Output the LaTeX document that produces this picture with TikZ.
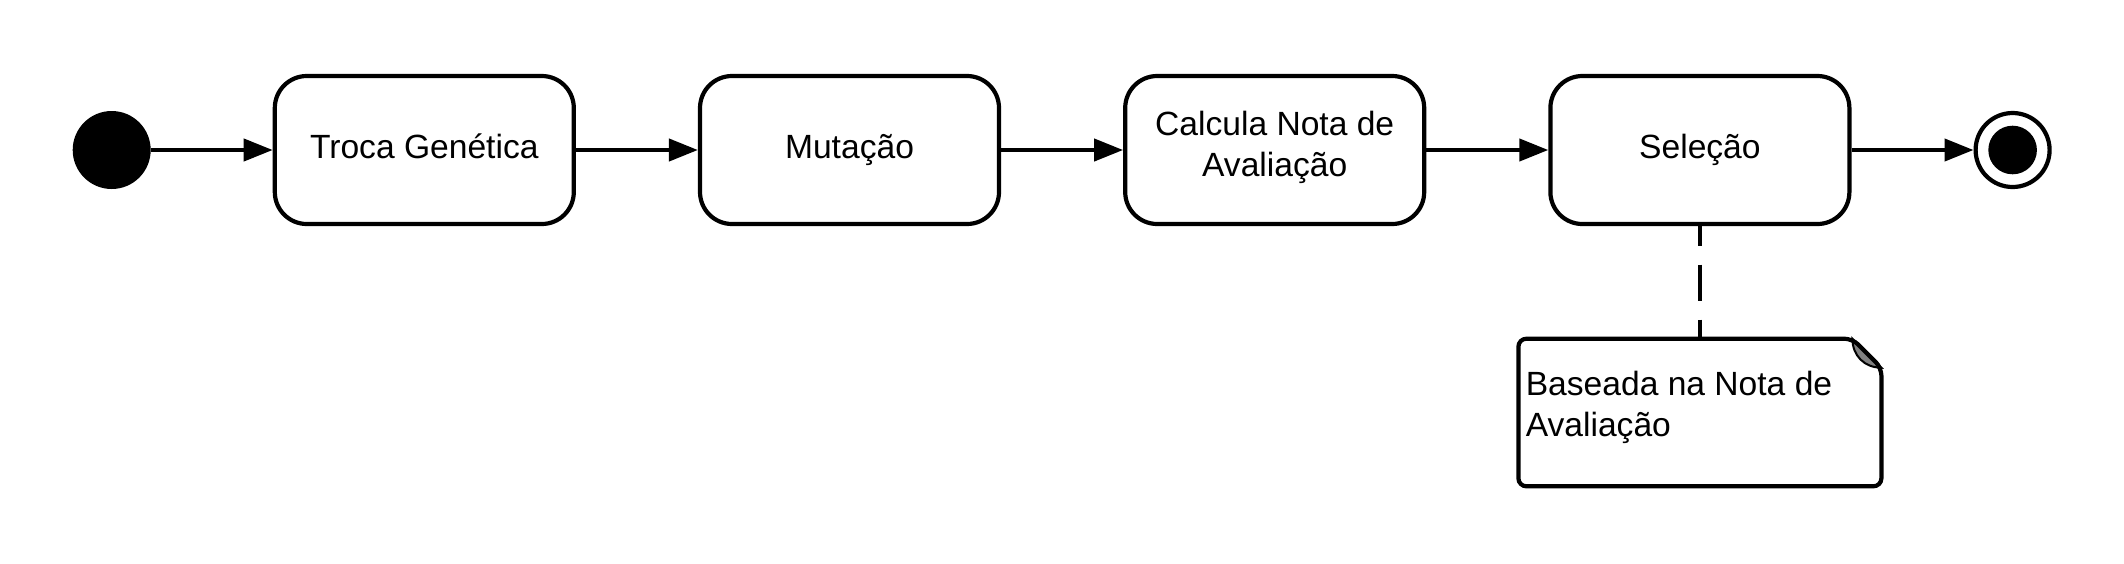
\documentclass[tikz,border=0pt]{standalone}
\usepackage{fontspec}
\setmainfont{Liberation Sans}
\usepackage{xcolor}
\usetikzlibrary{positioning,arrows.meta}

\definecolor{dobra}{HTML}{808080}

\begin{document}
\begin{tikzpicture}[
					node distance=61pt,
					atividade/.style={rectangle, draw=black, fill=white, line width=2.1pt, outer sep=1.05pt,
						rounded corners=16pt, minimum width=149.5pt, minimum height=74pt, inner sep=0pt,
						align=center, font=\fontsize{16.8}{20.5}\selectfont,
						execute at begin node=\strut, execute at end node=\strut},
					inicio/.style={circle, fill=black, minimum size=39pt, inner sep=0pt, outer sep=0pt},
					fim/.style={circle, draw=black, fill=white, line width=2.1pt, outer sep=1.05pt,
						minimum size=37pt, inner sep=0pt},
					nota/.style={rectangle, minimum width=181.5pt, minimum height=73.8pt, inner sep=0pt, outer sep=0pt},
					notatexto/.style={align=left, inner sep=0pt, font=\fontsize{16.8}{20.8}\selectfont},
					seta/.style={-{Triangle[length=14.5pt, width=11pt]}, line width=2.1pt},
					ligacao/.style={line width=2.1pt, dash pattern=on 18pt off 9.5pt, dash phase=8.25pt}
					]
					\useasboundingbox (0,0) rectangle (1062pt,-281.5pt);
					\node[inicio] (ini) at (55.85pt,-75pt) {};
					\node[atividade] (troca) [right=of ini] {Troca Genética};
					\node[atividade] (mut) [right=of troca] {Mutação};
					\node[atividade] (calc) [right=of mut] {Calcula Nota de\\Avaliação};
					\node[atividade] (sel) [right=of calc] {Seleção};
					\node[fim] (fin) [right=of sel] {};
					\fill[black] (fin.center) circle (12.15pt);
					\node[nota] (obs) [below=56.3pt of sel] {};
					\node[notatexto] (obstxt) [anchor=base west] at ([xshift=3.5pt, yshift=-49pt]obs.north west)
						{Baseada na Nota de\\Avaliação};
					% dobra da nota
					\filldraw[fill=dobra, draw=black, line width=1pt] ([xshift=-14.5pt]obs.north east)
						.. controls ([xshift=-14.5pt, yshift=-8.5pt]obs.north east) and ([xshift=-8.5pt, yshift=-14.5pt]obs.north east)
						.. ([yshift=-14.5pt]obs.north east) -- cycle;
					\draw[line width=2.1pt, rounded corners=4pt] (obs.north west) -- ([xshift=-14.5pt]obs.north east)
						-- ([yshift=-14.5pt]obs.north east) -- (obs.south east) -- (obs.south west) -- cycle;
					\draw[seta] (ini) -- (troca);
					\draw[seta] (troca) -- (mut);
					\draw[seta] (mut) -- (calc);
					\draw[seta] (calc) -- (sel);
					\draw[seta] (sel) -- (fin);
					\draw[ligacao] (sel) -- (obs);
				\end{tikzpicture}
\end{document}
